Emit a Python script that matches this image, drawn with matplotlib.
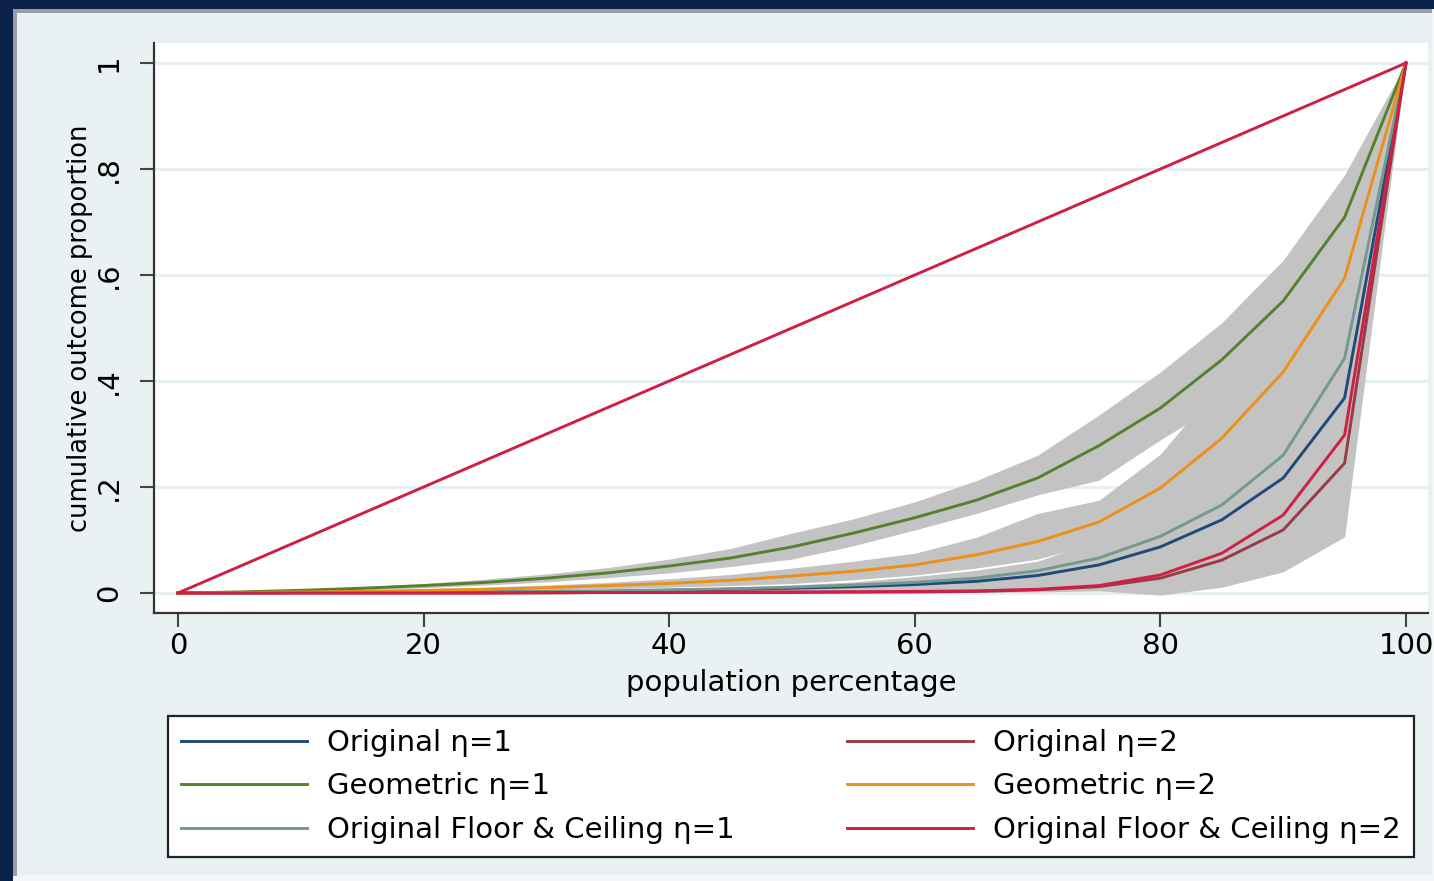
import matplotlib
matplotlib.use("Agg")
import matplotlib.pyplot as plt
from matplotlib.patches import Rectangle

# ---------------- data ----------------
pop = [0, 5, 10, 15, 20, 25, 30, 35, 40, 45, 50, 55, 60, 65, 70, 75, 80, 85, 90, 95, 100]

orig1 = [0, 0, .001, .001, .001, .002, .002, .003, .005, .007, .009, .012, .016, .022, .033, .053, .087, .138, .217, .368, 1]
geo1 = [0, .002, .005, .009, .014, .020, .028, .038, .051, .066, .087, .113, .142, .175, .217, .278, .349, .440, .551, .709, 1]
fc1 = [0, 0, .001, .001, .002, .002, .003, .004, .006, .008, .011, .015, .020, .028, .042, .066, .107, .166, .260, .443, 1]
orig2 = [0, 0, 0, 0, 0, 0, 0, .001, .001, .001, .001, .002, .002, .003, .006, .012, .028, .062, .119, .245, 1]
geo2 = [0, .001, .002, .003, .005, .007, .010, .014, .018, .024, .032, .041, .053, .072, .097, .134, .198, .292, .417, .594, 1]
fc2 = [0, 0, 0, 0, 0, 0, .001, .001, .001, .002, .002, .002, .003, .004, .007, .014, .034, .075, .147, .298, 1]

geo1_lo = [0, .001, .003, .006, .010, .015, .021, .029, .038, .050, .064, .089, .119, .150, .185, .213, .289, .360, .460, .620, 1]
geo1_hi = [0, .003, .007, .012, .018, .026, .036, .048, .064, .084, .113, .140, .172, .212, .260, .336, .417, .510, .628, .789, 1]
geo2_lo = [0, 0, .001, .002, .003, .004, .006, .008, .011, .014, .018, .025, .034, .047, .064, .095, .140, .200, .300, .450, 1]
geo2_hi = [0, .002, .003, .005, .008, .011, .015, .020, .027, .035, .047, .060, .075, .105, .150, .175, .262, .400, .520, .680, 1]
low_lo = [0, 0, 0, 0, 0, 0, 0, 0, 0, 0, 0, 0, 0, .001, .002, .004, -.004, .011, .040, .106, 1]
low_hi = [0, 0, .001, .002, .003, .004, .005, .007, .009, .011, .015, .021, .031, .043, .060, .100, .170, .260, .380, .580, 1]

eq_x = [0, 100]
eq_y = [0, 1]

labels = ["Original \u03b7=1", "Geometric \u03b7=1", "Original Floor & Ceiling \u03b7=1",
          "Original \u03b7=2", "Geometric \u03b7=2", "Original Floor & Ceiling \u03b7=2"]
x_ticks = [0, 20, 40, 60, 80, 100]
y_ticks = [0, .2, .4, .6, .8, 1]
y_ticklabels = ["0", ".2", ".4", ".6", ".8", "1"]

# ---------------- style ----------------
plt.rcParams['font.family'] = ['DejaVu Sans']
W, H = 1434, 881
fig = plt.figure(figsize=(W / 100, H / 100), dpi=100)
fig.patch.set_facecolor("#f4f6f7")

def frect(x0, y0, x1, y1, color, z=-10):
    fig.patches.append(Rectangle((x0 / W, 1 - y1 / H), (x1 - x0) / W, (y1 - y0) / H,
                                 transform=fig.transFigure, facecolor=color,
                                 edgecolor="none", zorder=z))

frect(0, 0, 13, H, "#0b2149")
frect(0, 0, W, 9, "#0b2149")
frect(13, 9, W - 2, 13, "#9a9ea2")
frect(13, 9, 17, 876, "#9a9ea2")
frect(17, 13, 1432, 875, "#e9f1f2")

ax = fig.add_axes([154 / W, 1 - 613 / H, (1428 - 154) / W, (613 - 43) / H])
ax.set_facecolor("white")

band_col = "#c3c3c3"
ax.fill_between(pop, low_lo, low_hi, color=band_col, lw=0, zorder=1)
ax.fill_between(pop, geo2_lo, geo2_hi, color=band_col, lw=0, zorder=1)
ax.fill_between(pop, geo1_lo, geo1_hi, color=band_col, lw=0, zorder=1)

c_navy = "#1f4a7a"
c_green = "#55812f"
c_teal = "#739a8c"
c_maroon = "#9a3a45"
c_orange = "#ee8f1a"
c_red = "#cf1f45"
lw = 2.1
l1, = ax.plot(pop, orig1, color=c_navy, lw=lw, zorder=3)
l2, = ax.plot(pop, geo1, color=c_green, lw=lw, zorder=3)
l3, = ax.plot(pop, fc1, color=c_teal, lw=lw, zorder=3)
l4, = ax.plot(pop, orig2, color=c_maroon, lw=lw, zorder=3)
l5, = ax.plot(pop, geo2, color=c_orange, lw=lw, zorder=3)
l6, = ax.plot(pop, fc2, color=c_red, lw=lw, zorder=4)
ax.plot(eq_x, eq_y, color=c_red, lw=lw, zorder=4)

xr = 12.28
ax.set_xlim(-(178 - 154) / xr, 100 + (1428 - 1406) / xr)
ax.set_ylim(-(613 - 593) / 530, 1 + (63 - 43) / 530)

ax.set_yticks(y_ticks)
ax.set_yticklabels(y_ticklabels, rotation=90, va="center")
ax.set_xticks(x_ticks)
ax.grid(axis="y", color="#e6eff1", lw=2.2, zorder=0)
ax.set_axisbelow(True)
for s in ["top", "right"]:
    ax.spines[s].set_visible(False)
for s in ["left", "bottom"]:
    ax.spines[s].set_color("#333333")
    ax.spines[s].set_linewidth(1.6)
ax.tick_params(axis="both", direction="out", length=10, width=1.5, color="#444444",
               labelsize=21, labelcolor="black")
ax.tick_params(axis="x", pad=4)
ax.tick_params(axis="y", pad=12.5)

ax.set_xlabel("population percentage", fontsize=21, labelpad=6)
ax.set_ylabel("cumulative outcome proportion", fontsize=18.5, labelpad=1)

leg = fig.legend([l1, l2, l3, l4, l5, l6], labels, ncol=2, mode="expand",
                 bbox_to_anchor=(168 / W, 1 - 857 / H, (1414 - 168) / W, (857 - 716) / H),
                 loc="lower left", fontsize=21, frameon=True, fancybox=False,
                 handlelength=4.3, handletextpad=0.7, labelspacing=0.53,
                 borderaxespad=0, borderpad=0.45)
leg.get_frame().set_edgecolor("#222222")
leg.get_frame().set_linewidth(1.6)
leg.get_frame().set_facecolor("white")
leg.get_frame().set_alpha(1)

fig.savefig("out.png", dpi=100, facecolor=fig.get_facecolor())
